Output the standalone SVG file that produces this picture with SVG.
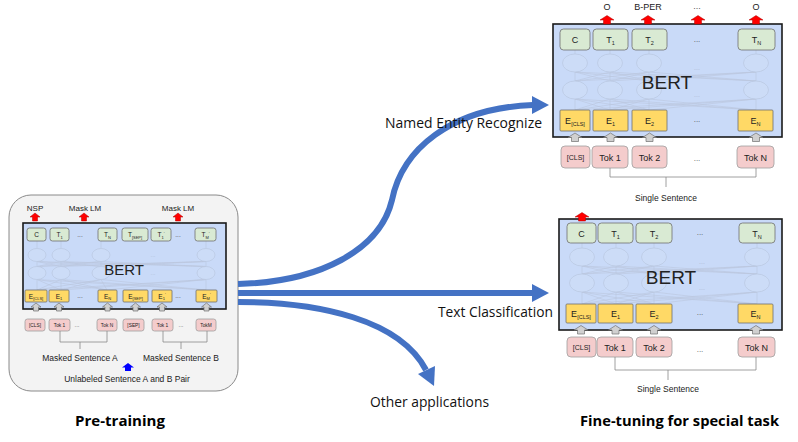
<svg xmlns="http://www.w3.org/2000/svg" width="798" height="442" viewBox="0 0 798 442">
<style>
.bert{fill:#c9daf8;stroke:#1a1a1a;stroke-width:1.6}
.g{fill:#d9ead3;stroke:#6f6f6f;stroke-width:0.8}
.y{fill:#ffd966;stroke:#6f6f6f;stroke-width:0.8}
.p{fill:#f4cccc;stroke:#a0a0a0;stroke-width:0.8}
.el{fill:#ccdcf7;stroke:#b9c7e0;stroke-width:0.7}
.ln{fill:none;stroke:#bac6dd;stroke-width:0.6}
.t{font-family:"Liberation Sans",Arial,sans-serif;fill:#222;text-anchor:middle}
.dots{font-family:"Liberation Sans",Arial,sans-serif;fill:#555;text-anchor:middle}
.fd{font-family:"Liberation Sans",Arial,sans-serif;fill:#afbcd4;text-anchor:middle}
.lab{font-family:"Open Sans","Liberation Sans",sans-serif;fill:#111;font-size:14px}
.hd{font-family:"Open Sans","Liberation Sans",sans-serif;fill:#000;font-size:15px;font-weight:bold;text-anchor:middle}
.red{fill:#ff0000;stroke:#b00000;stroke-width:0.5}
.gry{fill:#d0d0d0;stroke:#707070;stroke-width:0.7}
.brk{fill:none;stroke:#888;stroke-width:0.8}
.big{fill:none;stroke:#4472c4;stroke-width:6}
.bigh{fill:#4472c4}
</style>
<defs>
<path id="upS" d="M0,0 L5,4 L2.5,4 L2.5,8 L-2.5,8 L-2.5,4 L-5,4Z"/>
<path id="upL" d="M0,0 L7,4.5 L3.5,4.5 L3.5,8.5 L-3.5,8.5 L-3.5,4.5 L-7,4.5Z"/>
</defs>

<!-- ================= PRE-TRAINING PANEL ================= -->
<g id="pretrain">
<rect x="9" y="195" width="229" height="196" rx="22" fill="#f3f3f3" stroke="#8a8a8a" stroke-width="1"/>
<g id="pt-labels" class="t" font-size="8">
<text x="35" y="210.5">NSP</text>
<text x="85" y="210.5">Mask LM</text>
<text x="178" y="210.5">Mask LM</text>
</g>
<use href="#upS" class="red" x="35" y="213"/>
<use href="#upS" class="red" x="84" y="213"/>
<use href="#upS" class="red" x="178" y="213"/>
<g id="pt-bert">
<rect class="bert" x="23" y="223" width="203" height="86"/>
<path class="ln" d="M37,241V248.5M61,241V248.5M101,241V248.5M206,241V248.5
M37,261.5L61,266.5M37,261.5L101,266.5M37,261.5L206,266.5M61,261.5L37,266.5M61,261.5L101,266.5M61,261.5L206,266.5M101,261.5L37,266.5M101,261.5L61,266.5M101,261.5L206,266.5M206,261.5L37,266.5M206,261.5L61,266.5M206,261.5L101,266.5M37,261.5V266.5M61,261.5V266.5M101,261.5V266.5M206,261.5V266.5
M37,279.5L61,290M37,279.5L107,290M37,279.5L206,290M61,279.5L37,290M61,279.5L107,290M61,279.5L206,290M101,279.5L37,290M101,279.5L61,290M101,279.5L206,290M206,279.5L37,290M206,279.5L61,290M206,279.5L107,290M37,279.5V290M61,279.5V290M101,279.5L107,290M206,279.5V290"/>
<g class="el">
<ellipse cx="37" cy="255" rx="9" ry="6.5"/><ellipse cx="61" cy="255" rx="9" ry="6.5"/><ellipse cx="101" cy="255" rx="9" ry="6.5"/><ellipse cx="206" cy="255" rx="9" ry="6.5"/>
<ellipse cx="37" cy="273" rx="9" ry="6.5"/><ellipse cx="61" cy="273" rx="9" ry="6.5"/><ellipse cx="101" cy="273" rx="9" ry="6.5"/><ellipse cx="206" cy="273" rx="9" ry="6.5"/>
</g>
<text class="fd" x="153" y="257" font-size="6">...</text>
<text class="fd" x="153" y="275" font-size="6">...</text>
<text class="t" x="124" y="275" font-size="15" fill="#111">BERT</text>
</g>
<g id="pt-T-C"><rect class="g" x="27" y="228" width="19" height="13" rx="2.5"/><text class="t" x="36.5" y="237.3" font-size="6.5">C</text></g>
<g id="pt-T-1"><rect class="g" x="50" y="228" width="19" height="13" rx="2.5"/><text class="t" x="59.5" y="237.3" font-size="6.5">T<tspan font-size="4" dy="1.5">1</tspan></text></g>
<text class="dots" x="80" y="236.5" font-size="6.5">...</text>
<g id="pt-T-N"><rect class="g" x="98" y="228" width="19" height="13" rx="2.5"/><text class="t" x="107.5" y="237.3" font-size="6.5">T<tspan font-size="4" dy="1.5">N</tspan></text></g>
<g id="pt-T-SEP"><rect class="g" x="122" y="228" width="26" height="13" rx="2.5"/><text class="t" x="135" y="237.3" font-size="6.5">T<tspan font-size="4" dy="1.5">[SEP]</tspan></text></g>
<g id="pt-T-1b"><rect class="g" x="151" y="228" width="20" height="13" rx="2.5"/><text class="t" x="161" y="237.3" font-size="6.5">T<tspan font-size="4" dy="1.5">1</tspan><tspan font-size="4" dy="-4">'</tspan></text></g>
<text class="dots" x="178" y="236.5" font-size="6.5">...</text>
<g id="pt-T-M"><rect class="g" x="195" y="228" width="21" height="13" rx="2.5"/><text class="t" x="205.5" y="237.3" font-size="6.5">T<tspan font-size="4" dy="1.5">M</tspan><tspan font-size="4" dy="-4">'</tspan></text></g>

<g id="pt-E-CLS"><rect class="y" x="25" y="290" width="22" height="12" rx="1"/><text class="t" x="36" y="298.5" font-size="6.5">E<tspan font-size="4" dy="1.5">[CLS]</tspan></text></g>
<g id="pt-E-1"><rect class="y" x="49" y="290" width="20" height="12" rx="1"/><text class="t" x="59" y="298.5" font-size="6.5">E<tspan font-size="4" dy="1.5">1</tspan></text></g>
<text class="dots" x="80" y="298" font-size="6.5">...</text>
<g id="pt-E-N"><rect class="y" x="98" y="290" width="19" height="12" rx="1"/><text class="t" x="107.5" y="298.5" font-size="6.5">E<tspan font-size="4" dy="1.5">N</tspan></text></g>
<g id="pt-E-SEP"><rect class="y" x="123" y="290" width="25" height="12" rx="1"/><text class="t" x="135.5" y="298.5" font-size="6.5">E<tspan font-size="4" dy="1.5">[SEP]</tspan></text></g>
<g id="pt-E-1b"><rect class="y" x="152" y="290" width="20" height="12" rx="1"/><text class="t" x="162" y="298.5" font-size="6.5">E<tspan font-size="4" dy="1.5">1</tspan><tspan font-size="4" dy="-4">'</tspan></text></g>
<text class="dots" x="178" y="298" font-size="6.5">...</text>
<g id="pt-E-M"><rect class="y" x="196" y="290" width="21" height="12" rx="1"/><text class="t" x="206.5" y="298.5" font-size="6.5">E<tspan font-size="4" dy="1.5">M</tspan><tspan font-size="4" dy="-4">'</tspan></text></g>

<use href="#upS" class="gry" x="36" y="303"/>
<use href="#upS" class="gry" x="59" y="303"/>
<use href="#upS" class="gry" x="107.5" y="303"/>
<use href="#upS" class="gry" x="135.5" y="303"/>
<use href="#upS" class="gry" x="162" y="303"/>
<use href="#upS" class="gry" x="206.5" y="303"/>

<g id="pt-tok-CLS"><rect class="p" x="25" y="319" width="20" height="12" rx="2.5"/><text class="t" x="35" y="326.8" font-size="4.8">[CLS]</text></g>
<g id="pt-tok-1"><rect class="p" x="49" y="319" width="21" height="12" rx="2.5"/><text class="t" x="59.5" y="326.8" font-size="4.8">Tok 1</text></g>
<text class="dots" x="77" y="326.5" font-size="6">...</text>
<g id="pt-tok-N"><rect class="p" x="97" y="319" width="20" height="12" rx="2.5"/><text class="t" x="107" y="326.8" font-size="4.8">Tok N</text></g>
<g id="pt-tok-SEP"><rect class="p" x="123" y="319" width="21" height="12" rx="2.5"/><text class="t" x="133.5" y="326.8" font-size="4.8">[SEP]</text></g>
<g id="pt-tok-1b"><rect class="p" x="152" y="319" width="21" height="12" rx="2.5"/><text class="t" x="162.5" y="326.8" font-size="4.8">Tok 1</text></g>
<text class="dots" x="181" y="326.5" font-size="6">...</text>
<g id="pt-tok-M"><rect class="p" x="196" y="319" width="20" height="12" rx="2.5"/><text class="t" x="206" y="326.8" font-size="4.8">TokM</text></g>

<path class="brk" d="M60,331V342H107V331M80,342V349M163,331V342H207V331M181,342V349"/>
<text class="t" x="80" y="361" font-size="8.5">Masked Sentence A</text>
<text class="t" x="181" y="361" font-size="8.5">Masked Sentence B</text>
<path d="M128,363 L134,367.5 L131,367.5 L131,371 L125,371 L125,367.5 L122,367.5Z" fill="#0000ff"/>
<text class="t" x="127" y="381.5" font-size="8.5">Unlabeled Sentence A and B Pair</text>
</g>

<!-- ================= NER PANEL ================= -->
<g id="ner">
<g class="t" font-size="9">
<text x="607" y="10">O</text>
<text x="648" y="10">B-PER</text>
<text x="697" y="9" fill="#555">...</text>
<text x="756" y="10">O</text>
</g>
<rect class="bert" x="553" y="24" width="229" height="113"/>
<use href="#upL" class="red" x="607" y="15.5"/>
<use href="#upL" class="red" x="648" y="15.5"/>
<use href="#upL" class="red" x="698" y="15.5"/>
<use href="#upL" class="red" x="756" y="15.5"/>
<path class="ln" d="M575,50V54M610,50V54M649,50V54M756,50V54
M575,72L610,81M575,72L649,81M575,72L756,81M610,72L575,81M610,72L649,81M610,72L756,81M649,72L575,81M649,72L610,81M649,72L756,81M756,72L575,81M756,72L610,81M756,72L649,81M575,72V81M610,72V81M649,72V81M756,72V81
M575,99L610,110M575,99L649,110M575,99L756,110M610,99L575,110M610,99L649,110M610,99L756,110M649,99L575,110M649,99L610,110M649,99L756,110M756,99L575,110M756,99L610,110M756,99L649,110M575,99V110M610,99V110M649,99V110M756,99V110"/>
<g class="el">
<ellipse cx="575" cy="63" rx="12.5" ry="9"/><ellipse cx="610" cy="63" rx="12.5" ry="9"/><ellipse cx="649" cy="63" rx="12.5" ry="9"/><ellipse cx="756" cy="63" rx="12.5" ry="9"/>
<ellipse cx="575" cy="90" rx="12.5" ry="9"/><ellipse cx="610" cy="90" rx="12.5" ry="9"/><ellipse cx="649" cy="90" rx="12.5" ry="9"/><ellipse cx="756" cy="90" rx="12.5" ry="9"/>
</g>
<text class="fd" x="697" y="70" font-size="7">...</text>
<text class="fd" x="697" y="97" font-size="7">...</text>
<text class="t" x="667" y="89" font-size="19" fill="#111">BERT</text>
<g id="ner-T-C"><rect class="g" x="560" y="29" width="30" height="21" rx="3.5"/><text class="t" x="575" y="43" font-size="9">C</text></g>
<g id="ner-T-1"><rect class="g" x="593" y="29" width="35" height="21" rx="3.5"/><text class="t" x="610.5" y="43" font-size="9">T<tspan font-size="5.5" dy="2">1</tspan></text></g>
<g id="ner-T-2"><rect class="g" x="632" y="29" width="35" height="21" rx="3.5"/><text class="t" x="649.5" y="43" font-size="9">T<tspan font-size="5.5" dy="2">2</tspan></text></g>
<text class="dots" x="697" y="42" font-size="8">...</text>
<g id="ner-T-N"><rect class="g" x="738" y="29" width="37" height="21" rx="3.5"/><text class="t" x="756.5" y="43" font-size="9">T<tspan font-size="5.5" dy="2">N</tspan></text></g>

<g id="ner-E-CLS"><rect class="y" x="560" y="110" width="30" height="21" rx="1"/><text class="t" x="575" y="124" font-size="9">E<tspan font-size="5.5" dy="2">[CLS]</tspan></text></g>
<g id="ner-E-1"><rect class="y" x="593" y="110" width="35" height="21" rx="1"/><text class="t" x="610.5" y="124" font-size="9">E<tspan font-size="5.5" dy="2">1</tspan></text></g>
<g id="ner-E-2"><rect class="y" x="632" y="110" width="35" height="21" rx="1"/><text class="t" x="649.5" y="124" font-size="9">E<tspan font-size="5.5" dy="2">2</tspan></text></g>
<text class="dots" x="697" y="122" font-size="8">...</text>
<g id="ner-E-N"><rect class="y" x="738" y="110" width="35" height="21" rx="1"/><text class="t" x="755.5" y="124" font-size="9">E<tspan font-size="5.5" dy="2">N</tspan></text></g>

<use href="#upL" class="gry" x="575" y="133"/>
<use href="#upL" class="gry" x="610.5" y="133"/>
<use href="#upL" class="gry" x="649.5" y="133"/>
<use href="#upL" class="gry" x="756" y="133"/>

<g id="ner-tok-CLS"><rect class="p" x="561" y="146" width="29" height="22" rx="4"/><text class="t" x="575.5" y="160" font-size="7">[CLS]</text></g>
<g id="ner-tok-1"><rect class="p" x="592" y="146" width="36" height="22" rx="4"/><text class="t" x="610" y="160.5" font-size="9">Tok 1</text></g>
<g id="ner-tok-2"><rect class="p" x="632" y="146" width="35" height="22" rx="4"/><text class="t" x="649.5" y="160.5" font-size="9">Tok 2</text></g>
<text class="dots" x="697" y="161" font-size="8">...</text>
<g id="ner-tok-N"><rect class="p" x="737" y="146" width="37" height="22" rx="4"/><text class="t" x="755.5" y="160.5" font-size="9">Tok N</text></g>
<path class="brk" d="M610,168V177H756V168M666,177V187"/>
<text class="t" x="666" y="201" font-size="8.5">Single Sentence</text>
</g>

<!-- ================= TEXT CLASSIFICATION PANEL ================= -->
<g id="cls">
<rect class="bert" x="559" y="219" width="223" height="111"/>
<use href="#upL" class="red" x="582" y="212.5"/>
<path class="ln" d="M582,243V248M616,243V248M654,243V248M757,243V248
M582,266L616,274M582,266L654,274M582,266L757,274M616,266L582,274M616,266L654,274M616,266L757,274M654,266L582,274M654,266L616,274M654,266L757,274M757,266L582,274M757,266L616,274M757,266L654,274M582,266V274M616,266V274M654,266V274M757,266V274
M582,292L616,304M582,292L654,304M582,292L757,304M616,292L582,304M616,292L654,304M616,292L757,304M654,292L582,304M654,292L616,304M654,292L757,304M757,292L582,304M757,292L616,304M757,292L654,304M582,292V304M616,292V304M654,292V304M757,292V304"/>
<g class="el">
<ellipse cx="582" cy="257" rx="12.5" ry="9"/><ellipse cx="616" cy="257" rx="12.5" ry="9"/><ellipse cx="654" cy="257" rx="12.5" ry="9"/><ellipse cx="757" cy="257" rx="12.5" ry="9"/>
<ellipse cx="582" cy="283" rx="12.5" ry="9"/><ellipse cx="616" cy="283" rx="12.5" ry="9"/><ellipse cx="654" cy="283" rx="12.5" ry="9"/><ellipse cx="757" cy="283" rx="12.5" ry="9"/>
</g>
<text class="fd" x="702" y="264" font-size="7">...</text>
<text class="fd" x="702" y="290" font-size="7">...</text>
<text class="t" x="671" y="284" font-size="19" fill="#111">BERT</text>
<g id="cls-T-C"><rect class="g" x="567" y="223" width="29" height="20" rx="3.5"/><text class="t" x="581.5" y="236.5" font-size="9">C</text></g>
<g id="cls-T-1"><rect class="g" x="598" y="223" width="35" height="20" rx="3.5"/><text class="t" x="615.5" y="236.5" font-size="9">T<tspan font-size="5.5" dy="2">1</tspan></text></g>
<g id="cls-T-2"><rect class="g" x="636" y="223" width="36" height="20" rx="3.5"/><text class="t" x="654" y="236.5" font-size="9">T<tspan font-size="5.5" dy="2">2</tspan></text></g>
<text class="dots" x="700" y="235" font-size="8">...</text>
<g id="cls-T-N"><rect class="g" x="739" y="223" width="36" height="20" rx="3.5"/><text class="t" x="757" y="236.5" font-size="9">T<tspan font-size="5.5" dy="2">N</tspan></text></g>

<g id="cls-E-CLS"><rect class="y" x="566" y="304" width="30" height="19" rx="1"/><text class="t" x="581" y="317" font-size="9">E<tspan font-size="5.5" dy="2">[CLS]</tspan></text></g>
<g id="cls-E-1"><rect class="y" x="598" y="304" width="35" height="19" rx="1"/><text class="t" x="615.5" y="317" font-size="9">E<tspan font-size="5.5" dy="2">1</tspan></text></g>
<g id="cls-E-2"><rect class="y" x="636" y="304" width="36" height="19" rx="1"/><text class="t" x="654" y="317" font-size="9">E<tspan font-size="5.5" dy="2">2</tspan></text></g>
<text class="dots" x="700" y="315" font-size="8">...</text>
<g id="cls-E-N"><rect class="y" x="738" y="304" width="35" height="19" rx="1"/><text class="t" x="755.5" y="317" font-size="9">E<tspan font-size="5.5" dy="2">N</tspan></text></g>

<use href="#upL" class="gry" x="581" y="325.5"/>
<use href="#upL" class="gry" x="615.5" y="325.5"/>
<use href="#upL" class="gry" x="654" y="325.5"/>
<use href="#upL" class="gry" x="756" y="325.5"/>

<g id="cls-tok-CLS"><rect class="p" x="567" y="337" width="29" height="20" rx="4"/><text class="t" x="581.5" y="350" font-size="7">[CLS]</text></g>
<g id="cls-tok-1"><rect class="p" x="597" y="337" width="36" height="20" rx="4"/><text class="t" x="615" y="350.5" font-size="9">Tok 1</text></g>
<g id="cls-tok-2"><rect class="p" x="636" y="337" width="36" height="20" rx="4"/><text class="t" x="654" y="351" font-size="9">Tok 2</text></g>
<text class="dots" x="700" y="352" font-size="8">...</text>
<g id="cls-tok-N"><rect class="p" x="738" y="337" width="37" height="20" rx="4"/><text class="t" x="756.5" y="350.5" font-size="9">Tok N</text></g>
<path class="brk" d="M615,357V370H756V357M668,370V380"/>
<text class="t" x="668" y="392" font-size="8.5">Single Sentence</text>
</g>

<!-- ================= CONNECTORS ================= -->
<g id="connectors">
<path class="big" d="M238,284 C320,282 380,250 392,200 C402,150 450,108 533,105"/>
<polygon class="bigh" points="549,105 532,96 532,114"/>
<path class="big" d="M238,293 H533"/>
<polygon class="bigh" points="549,293 532,284 532,302"/>
<path class="big" d="M238,302 C320,302 400,320 426,370"/>
<polygon class="bigh" points="434,386 418,374 435,366"/>
</g>

<!-- ================= LABELS ================= -->
<g id="labels">
<text class="lab" x="385" y="128" textLength="157" lengthAdjust="spacingAndGlyphs">Named Entity Recognize</text>
<text class="lab" x="438" y="317" textLength="115" lengthAdjust="spacingAndGlyphs">Text Classification</text>
<text class="lab" x="370" y="407" textLength="119" lengthAdjust="spacingAndGlyphs">Other applications</text>
<text class="hd" x="120" y="426" textLength="90" lengthAdjust="spacingAndGlyphs">Pre-training</text>
<text class="hd" x="679.5" y="426" textLength="199" lengthAdjust="spacingAndGlyphs">Fine-tuning for special task</text>
</g>
</svg>
